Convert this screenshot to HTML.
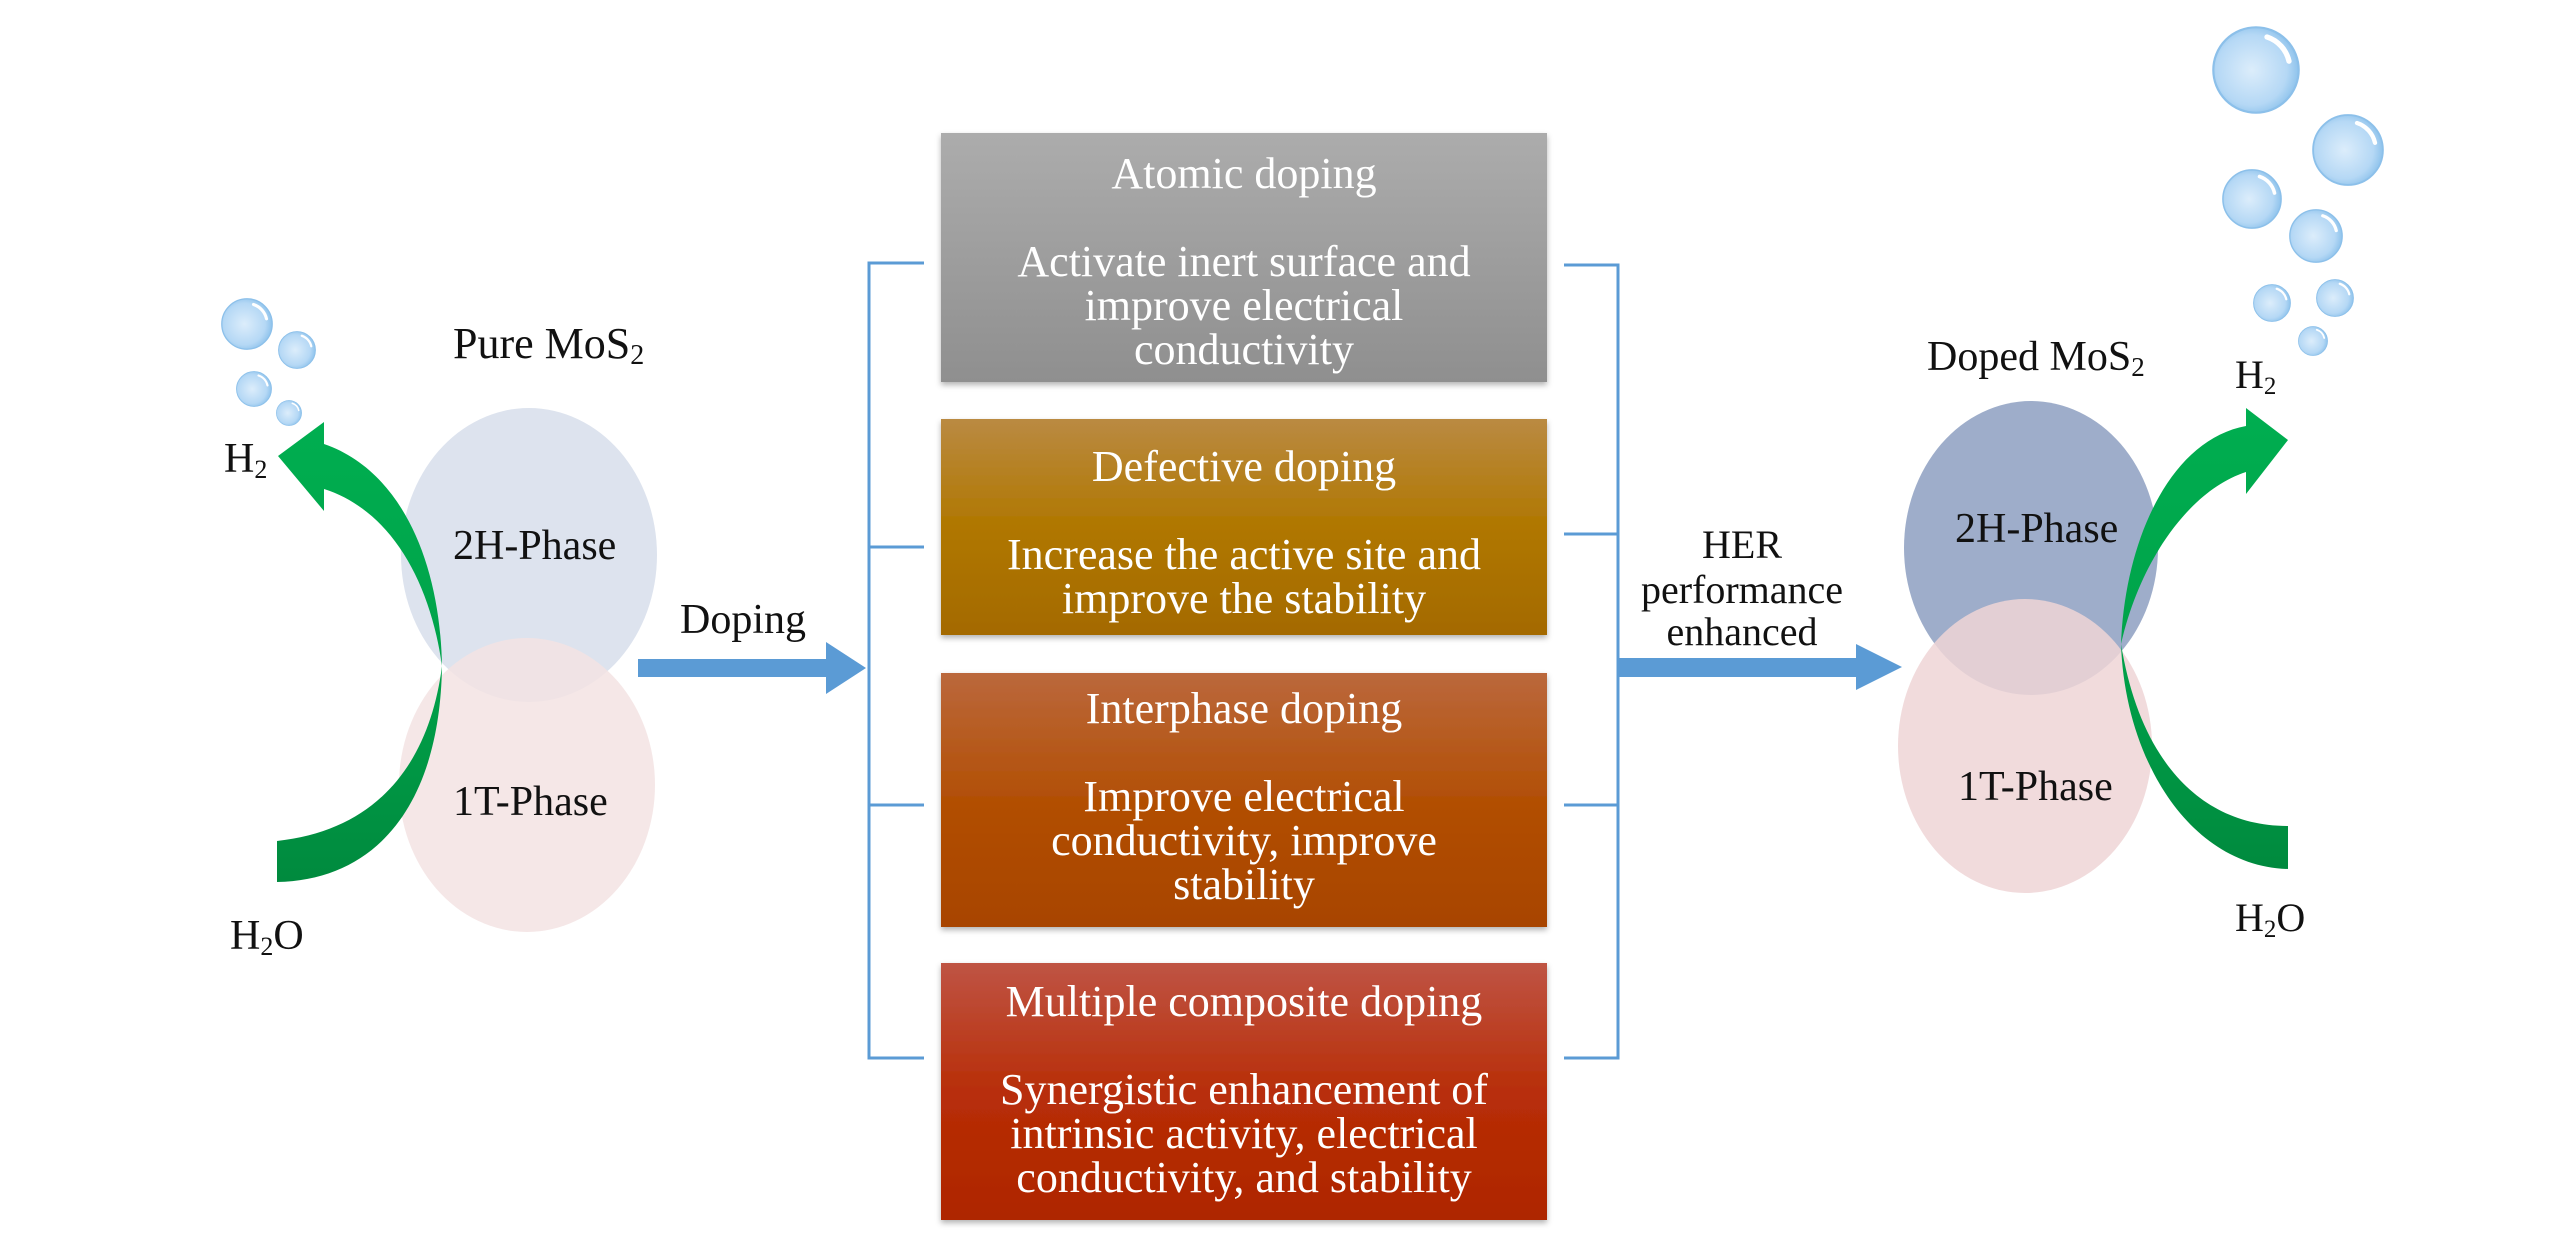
<!DOCTYPE html>
<html><head><meta charset="utf-8"><style>
html,body{margin:0;padding:0;background:#fff;}
svg{display:block;}
text{font-family:"Liberation Serif",serif;}
</style></head><body>
<svg width="2567" height="1260" viewBox="0 0 2567 1260" xmlns="http://www.w3.org/2000/svg">
<defs>
<linearGradient id="g1" x1="0" y1="0" x2="0" y2="1"><stop offset="0" stop-color="#acacac"/><stop offset="1" stop-color="#8f8f8f"/></linearGradient>
<linearGradient id="g2" x1="0" y1="0" x2="0" y2="1"><stop offset="0" stop-color="#ba8a42"/><stop offset="0.5" stop-color="#b07700"/><stop offset="1" stop-color="#a46a00"/></linearGradient>
<linearGradient id="g3" x1="0" y1="0" x2="0" y2="1"><stop offset="0" stop-color="#bb683c"/><stop offset="0.5" stop-color="#b24f05"/><stop offset="1" stop-color="#a84400"/></linearGradient>
<linearGradient id="g4" x1="0" y1="0" x2="0" y2="1"><stop offset="0" stop-color="#bf5444"/><stop offset="0.5" stop-color="#b82e08"/><stop offset="1" stop-color="#ae2600"/></linearGradient>
<linearGradient id="gr" x1="0" y1="0" x2="0" y2="1"><stop offset="0" stop-color="#00ae50"/><stop offset="0.5" stop-color="#00a34a"/><stop offset="1" stop-color="#008a3e"/></linearGradient>
<radialGradient id="bub" cx="0.45" cy="0.5" r="0.55"><stop offset="0" stop-color="#dcedfb"/><stop offset="0.75" stop-color="#b5d8f5"/><stop offset="1" stop-color="#8fc3ec"/></radialGradient>
<filter id="sh" x="-5%" y="-5%" width="110%" height="115%"><feDropShadow dx="0" dy="3" stdDeviation="3" flood-color="#000" flood-opacity="0.3"/></filter>
<symbol id="b" viewBox="-1 -1 2 2"><circle cx="0" cy="0" r="0.97" fill="url(#bub)" stroke="#8cc0ea" stroke-width="0.05"/><path d="M0.25,-0.75 A0.75,0.75 0 0 1 0.75,-0.2" stroke="#fff" stroke-width="0.12" fill="none" stroke-linecap="round"/></symbol>
</defs>

<use href="#b" x="221" y="298" width="52" height="52"/>
<use href="#b" x="278" y="331" width="38" height="38"/>
<use href="#b" x="236" y="371" width="36" height="36"/>
<use href="#b" x="276" y="400" width="26" height="26"/>

<ellipse cx="529" cy="555" rx="128" ry="147" fill="#dde3ee"/>
<ellipse cx="527" cy="785" rx="128" ry="147" fill="#f3e3e3" opacity="0.85"/>

<path d="M278,456 L324,422 L324,444 C400,470 440,560 442,666 C440,800 380,880 277,882 L277,841 C380,830 430,760 442,666 C430,580 390,510 324,489 L324,511 Z" fill="url(#gr)"/>

<text x="453" y="358" font-size="44" fill="#111">Pure MoS<tspan font-size="28" dy="6">2</tspan></text>
<text x="453" y="559" font-size="42" fill="#111">2H-Phase</text>
<text x="453" y="815" font-size="42" fill="#111">1T-Phase</text>
<text x="224" y="472" font-size="42" fill="#111">H<tspan font-size="26" dy="6">2</tspan></text>
<text x="230" y="949" font-size="42" fill="#111">H<tspan font-size="26" dy="6">2</tspan><tspan dy="-6">O</tspan></text>

<text x="680" y="633" font-size="42" fill="#111">Doping</text>
<rect x="638" y="659" width="190" height="18" fill="#5b9bd5"/>
<path d="M826,642 L866,668 L826,694 Z" fill="#5b9bd5"/>

<g stroke="#5b9bd5" stroke-width="3" fill="none">
<path d="M924,263 L869,263 L869,1058 L924,1058"/>
<path d="M869,547 L924,547 M869,805 L924,805"/>
<path d="M1564,265 L1618,265 L1618,1058 L1564,1058"/>
<path d="M1564,534 L1618,534 M1564,805 L1618,805"/>
</g>

<g filter="url(#sh)">
<rect x="941" y="133" width="606" height="249" fill="url(#g1)"/>
<rect x="941" y="419" width="606" height="216" fill="url(#g2)"/>
<rect x="941" y="673" width="606" height="254" fill="url(#g3)"/>
<rect x="941" y="963" width="606" height="257" fill="url(#g4)"/>
</g>
<g fill="#fff" font-size="44" text-anchor="middle">
<text x="1244" y="188">Atomic doping</text>
<text x="1244" y="276">Activate inert surface and</text>
<text x="1244" y="320">improve electrical</text>
<text x="1244" y="364">conductivity</text>
<text x="1244" y="481">Defective doping</text>
<text x="1244" y="569">Increase the active site and</text>
<text x="1244" y="613">improve the stability</text>
<text x="1244" y="723">Interphase doping</text>
<text x="1244" y="811">Improve electrical</text>
<text x="1244" y="855">conductivity, improve</text>
<text x="1244" y="899">stability</text>
<text x="1244" y="1016">Multiple composite doping</text>
<text x="1244" y="1104">Synergistic enhancement of</text>
<text x="1244" y="1148">intrinsic activity, electrical</text>
<text x="1244" y="1192">conductivity, and stability</text>
</g>

<g font-size="40" fill="#111" text-anchor="middle">
<text x="1742" y="558">HER</text>
<text x="1742" y="603">performance</text>
<text x="1742" y="645">enhanced</text>
</g>
<rect x="1618" y="658" width="240" height="19" fill="#5b9bd5"/>
<path d="M1856,644 L1902,667 L1856,690 Z" fill="#5b9bd5"/>

<use href="#b" x="2212" y="26" width="88" height="88"/>
<use href="#b" x="2312" y="114" width="72" height="72"/>
<use href="#b" x="2222" y="169" width="60" height="60"/>
<use href="#b" x="2289" y="209" width="54" height="54"/>
<use href="#b" x="2253" y="284" width="38" height="38"/>
<use href="#b" x="2316" y="279" width="38" height="38"/>
<use href="#b" x="2298" y="326" width="30" height="30"/>

<ellipse cx="2031" cy="548" rx="127" ry="147" fill="#9eadca"/>
<ellipse cx="2025" cy="746" rx="127" ry="147" fill="#efd5d6" opacity="0.85"/>

<path d="M2288,440 L2246,408 L2246,426 C2170,440 2125,540 2121,644 C2125,760 2190,866 2288,869 L2288,826 C2200,826 2140,760 2121,644 C2140,560 2190,490 2246,472 L2246,494 Z" fill="url(#gr)"/>

<text x="1927" y="370" font-size="42" fill="#111">Doped MoS<tspan font-size="27" dy="6">2</tspan></text>
<text x="1955" y="542" font-size="42" fill="#111">2H-Phase</text>
<text x="1958" y="800" font-size="42" fill="#111">1T-Phase</text>
<text x="2235" y="388" font-size="40" fill="#111">H<tspan font-size="25" dy="6">2</tspan></text>
<text x="2235" y="931" font-size="40" fill="#111">H<tspan font-size="25" dy="6">2</tspan><tspan dy="-6">O</tspan></text>
</svg>
</body></html>
